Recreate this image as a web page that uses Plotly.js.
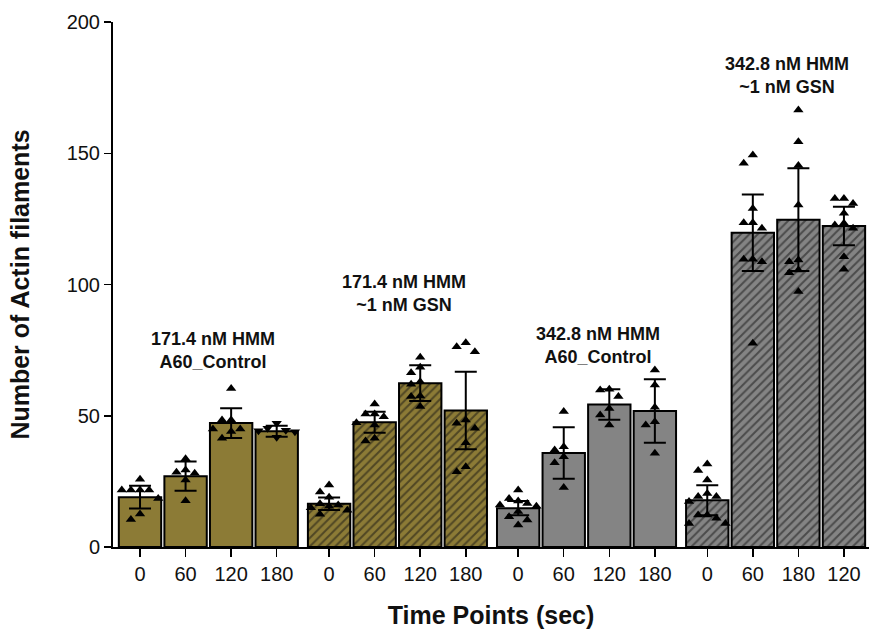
<!DOCTYPE html>
<html>
<head>
<meta charset="utf-8">
<script src="https://cdn.plot.ly/plotly-3.0.1.min.js"></script>
<style>html,body{margin:0;padding:0;background:#fff;}#chart{width:869px;height:629px;}</style>
</head>
<body>
<div id="chart"></div>
<script>
// ---- data ----
const groupNames = ['171.4 nM HMM<br>A60_Control', '171.4 nM HMM<br>~1 nM GSN', '342.8 nM HMM<br>A60_Control', '342.8 nM HMM<br>~1 nM GSN'];
const timeLabels = [['0','60','120','180'], ['0','60','120','180'], ['0','60','120','180'], ['0','60','180','120']];
const barMeans = [
  [19.0, 27.0, 47.2, 44.1],
  [16.5, 47.5, 62.4, 52.0],
  [14.8, 35.8, 54.3, 51.8],
  [17.8, 119.7, 124.7, 122.3]
];
const barSD = [
  [4.3, 5.6, 5.7, 2.1],
  [2.4, 4.0, 6.8, 14.8],
  [2.7, 9.8, 5.8, 12.1],
  [5.7, 14.6, 19.6, 7.3]
];
const pointsG1 = [
  [25.8, 21.7, 21.7, 21.7, 21.7, 18.5, 12.6, 10.5],
  [33.6, 29.3, 28.5, 28.1, 25.5, 17.6],
  [60.4, 48.4, 48.4, 45.0, 45.0, 44.0, 41.4],
  [47.1, 45.2, 44.5, 44.3, 43.9, 41.8]
];
const pointsG2 = [
  [23.6, 21.0, 19.0, 16.5, 16.0, 15.5, 15.0, 14.0, 12.5],
  [54.5, 50.7, 50.7, 49.6, 47.3, 46.5, 41.4, 40.4],
  [72.3, 68.5, 66.4, 63.0, 62.0, 57.5, 57.3, 53.5],
  [77.8, 76.3, 74.4, 48.4, 47.1, 45.2, 39.7, 30.6, 28.7]
];
const pointsG3 = [
  [21.7, 18.5, 17.5, 16.6, 16.0, 15.5, 13.5, 11.5, 10.3, 8.4],
  [51.6, 38.2, 37.0, 34.4, 32.1, 22.7],
  [60.1, 59.8, 57.3, 52.8, 50.3, 46.5],
  [67.4, 61.7, 53.2, 47.7, 46.5, 35.7]
];
const pointsG4 = [
  [31.6, 29.1, 25.5, 20.4, 19.2, 19.2, 17.3, 12.2, 12.2, 11.0, 9.0, 9.0],
  [149.3, 146.2, 129.0, 123.5, 123.5, 121.4, 109.6, 109.6, 108.7, 77.6],
  [166.5, 154.4, 145.3, 130.3, 109.3, 108.7, 105.5, 104.5, 97.3],
  [132.8, 132.8, 130.9, 127.1, 123.3, 122.7, 121.4, 110.6, 105.8]
];
const allPoints = [pointsG1, pointsG2, pointsG3, pointsG4];

// ---- styling ----
const OLIVE = '#8c7b36';
const GRAY = '#848484';
const groupColors = [OLIVE, OLIVE, GRAY, GRAY];
const groupHatched = [false, true, false, true];
const GAP = 0.15;
const PX_PER_X = 45.5, PX_PER_Y = 2.625, MK = 9;
const FONT = 'Liberation Sans, Arial, Helvetica, sans-serif';

function xPos(g, i) { return g * (4 + GAP) + i; }

// simple beeswarm in pixel space
function swarm(vals) {
  const cand = [0, -0.2, 0.2, -0.4, 0.4, -0.3, 0.3, -0.1, 0.1];
  const placed = [];
  const order = vals.map((v, k) => k).sort((a, b) => vals[b] - vals[a]);
  const offs = new Array(vals.length).fill(0);
  order.forEach(k => {
    for (const c of cand) {
      const ok = placed.every(p => !(Math.abs((p.o - c) * PX_PER_X) < MK && Math.abs((p.v - vals[k]) * PX_PER_Y) < MK));
      if (ok) { offs[k] = c; placed.push({o: c, v: vals[k]}); return; }
    }
    offs[k] = 0; placed.push({o: 0, v: vals[k]});
  });
  return offs;
}

const traces = [];
const tickvals = [], ticktext = [];
for (let g = 0; g < 4; g++) {
  const xs = [0,1,2,3].map(i => xPos(g, i));
  xs.forEach((x, i) => { tickvals.push(x); ticktext.push(timeLabels[g][i]); });
  const marker = {color: groupColors[g], line: {color: '#000', width: 2}};
  if (groupHatched[g]) {
    marker.pattern = {shape: '/', fillmode: 'overlay', fgcolor: '#111', size: 6, solidity: 0.33};
  }
  traces.push({
    type: 'bar', x: xs, y: barMeans[g], width: 0.93, marker: marker,
    error_y: {type: 'data', array: barSD[g], visible: true, color: '#000', thickness: 2, width: 11},
    showlegend: false, hoverinfo: 'y'
  });
}
for (let g = 0; g < 4; g++) {
  const px = [], py = [], sym = [];
  for (let i = 0; i < 4; i++) {
    const vals = allPoints[g][i];
    const offs = swarm(vals);
    vals.forEach((v, k) => {
      px.push(xPos(g, i) + offs[k]); py.push(v);
      sym.push(g === 0 && i === 3 ? 'triangle-down' : 'triangle-up');
    });
  }
  traces.push({
    type: 'scatter', mode: 'markers', x: px, y: py,
    marker: {symbol: sym, size: MK, color: '#000'}, showlegend: false, cliponaxis: false
  });
}

const annY = [74.7, 96.4, 76.6, 179.5];
const annDx = [0.1, 0.15, 0.25, 0.25];
const annotations = groupNames.map((t, g) => ({
  x: xPos(g, 1.5) + annDx[g], y: annY[g], xref: 'x', yref: 'y', text: '<b>' + t + '</b>',
  showarrow: false, xanchor: 'center', yanchor: 'middle',
  font: {family: FONT, size: 18, color: '#111'}
}));

const layout = {
  width: 869, height: 629,
  margin: {l: 113, r: 0, t: 22, b: 82},
  paper_bgcolor: '#fff', plot_bgcolor: '#fff',
  bargap: 0,
  font: {family: FONT, color: '#111'},
  xaxis: {
    range: [-0.593, 16.0], tickmode: 'array', tickvals: tickvals, ticktext: ticktext,
    showgrid: false, zeroline: false, showline: true, linecolor: '#000', linewidth: 2,
    ticks: 'outside', ticklen: 8, tickwidth: 1.5, tickcolor: '#000',
    tickfont: {family: FONT, size: 20, color: '#111'},
    title: {text: '<b>Time Points (sec)</b>', font: {family: FONT, size: 25, color: '#111'}, standoff: 24},
    fixedrange: true
  },
  yaxis: {
    range: [0, 200], tickvals: [0, 50, 100, 150, 200],
    showgrid: false, zeroline: false, showline: true, linecolor: '#000', linewidth: 2,
    ticks: 'outside', ticklen: 7, tickwidth: 1.5, tickcolor: '#000',
    tickfont: {family: FONT, size: 20, color: '#111'},
    title: {text: '<b>Number of Actin filaments</b>', font: {family: FONT, size: 25, color: '#111'}, standoff: 30},
    fixedrange: true
  },
  annotations: annotations
};

Plotly.newPlot('chart', traces, layout, {staticPlot: true, displayModeBar: false});
</script>
</body>
</html>
